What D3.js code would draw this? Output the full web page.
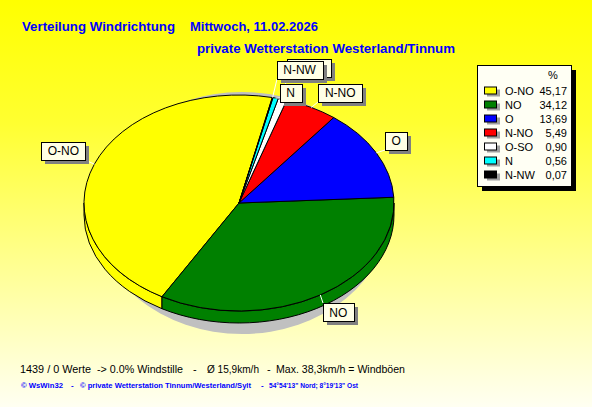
<!DOCTYPE html>
<html><head><meta charset="utf-8">
<script src="https://cdn.jsdelivr.net/npm/d3@7"></script>
<style>html,body{margin:0;padding:0;overflow:hidden;background:#fff}</style>
</head><body>
<svg id="c" width="592" height="407"></svg>
<script>
// ---- data ----
const categories = ["O-NO","NO","O","N-NO","O-SO","N","N-NW"];
const values = [45.17,34.12,13.69,5.49,0.90,0.56,0.07];
const colors = ["#ffff00","#008000","#0000ff","#ff0000","#ffffff","#00ffff","#000000"];
const titleParts = ["Verteilung Windrichtung","Mittwoch, 11.02.2026"];
const subtitle = "private Wetterstation Westerland/Tinnum";
const infoParts = ["1439 / 0 Werte","-> 0.0% Windstille","-","Ø 15,9km/h","-","Max. 38,3km/h = Windböen"];
const footParts = ["© WsWin32","-","© private Wetterstation Tinnum/Westerland/Sylt","-","54°54'13\" Nord; 8°19'13\" Ost"];

// ---- layout ----
const W = 592, H = 407;
const cx = 239, cy = 203, rx = 155, ry = 108, depth = 12;
const startDeg = 77.6;
const labelOffsets = {"O-NO":[-31,-13],"NO":[18,17.5],"O":[20,-12],"N-NO":[29,-14.5],"O-SO":[27,-31],"N":[15,-5],"N-NW":[27,-27.6]};

const svg = d3.select("#c");
const defs = svg.append("defs");
const grad = defs.append("linearGradient").attr("id","bg").attr("x1",0).attr("y1",0).attr("x2",0).attr("y2",1);
grad.append("stop").attr("offset","0").attr("stop-color","#ffff00");
grad.append("stop").attr("offset","0.3").attr("stop-color","#ffff30");
grad.append("stop").attr("offset","1").attr("stop-color","#fffff2");
svg.append("rect").attr("width",W).attr("height",H).attr("fill","url(#bg)");

// titles
const bold = {"font-family":"'Liberation Sans', Arial, sans-serif","font-weight":"bold","font-size":"13px","fill":"#0000ff"};
function txt(g, s, x, y, attrs, len){
  const t = g.append("text").attr("x",x).attr("y",y).text(s);
  for (const k in attrs) t.attr(k, attrs[k]);
  if (len) t.attr("textLength",len).attr("lengthAdjust","spacingAndGlyphs");
  return t;
}
txt(svg, titleParts[0], 22, 31, bold, 153);
txt(svg, titleParts[1], 190, 31, bold);
txt(svg, subtitle, 197, 53, bold, 258);

// pie geometry via d3.pie
const pie = d3.pie().sort(null).startAngle(0).endAngle(2*Math.PI);
const arcs = pie(values);
const ang = d3.scaleLinear().domain([0, 2*Math.PI]).range([startDeg*Math.PI/180, startDeg*Math.PI/180 + 2*Math.PI]);
const pt = (t, dy=0) => [cx + rx*Math.cos(t), cy - ry*Math.sin(t) + dy];

// shadow
svg.append("ellipse").attr("cx",cx+3).attr("cy",cy+10).attr("rx",rx-8).attr("ry",ry+13).attr("fill","#c0c0c0");

// side walls (front half)
const gWall = svg.append("g");
arcs.forEach((a,i)=>{
  const t1 = ang(a.startAngle), t2 = ang(a.endAngle);
  const lo = Math.max(t1, Math.PI), hi = Math.min(t2, 2*Math.PI);
  if (hi > lo) {
    const p1 = pt(lo), p2 = pt(hi), p3 = pt(hi, depth), p4 = pt(lo, depth);
    gWall.append("path")
      .attr("d", `M${p1}A${rx},${ry} 0 0 0 ${p2}L${p3}A${rx},${ry} 0 0 1 ${p4}Z`)
      .attr("fill", colors[i]).attr("stroke","#000").attr("stroke-width",1);
  }
});

// top face
const gTop = svg.append("g");
arcs.forEach((a,i)=>{
  const t1 = ang(a.startAngle), t2 = ang(a.endAngle);
  const p1 = pt(t1), p2 = pt(t2);
  const large = (t2-t1) > Math.PI ? 1 : 0;
  gTop.append("path")
    .attr("d", `M${cx},${cy}L${p1}A${rx},${ry} 0 ${large} 0 ${p2}Z`)
    .attr("fill", colors[i]).attr("stroke","#000").attr("stroke-width",1).attr("stroke-linejoin","round");
});

// labels
const lblFont = {"font-family":"'Liberation Sans', Arial, sans-serif","font-size":"12px","fill":"#000"};
const gLead = svg.append("g"), gLab = svg.append("g");
arcs.forEach((a,i)=>{
  const name = categories[i];
  const tm = ang((a.startAngle + a.endAngle)/2);
  const anchor = pt(tm);
  const off = labelOffsets[name];
  const bcx = anchor[0]+off[0], bcy = anchor[1]+off[1];
  const g = gLab.append("g");
  const t = txt(g, name, bcx, bcy+4.3, lblFont).attr("text-anchor","middle");
  const tw = t.node().getComputedTextLength();
  const bw = Math.round(tw + 13), bh = 18;
  const bx = Math.round(bcx - bw/2), by = Math.round(bcy - bh/2);
  g.insert("rect","text").attr("x",bx+4).attr("y",by+4).attr("width",bw).attr("height",bh).attr("fill","#808080");
  g.insert("rect","text").attr("x",bx+0.5).attr("y",by+0.5).attr("width",bw).attr("height",bh).attr("fill","#ffffe6").attr("stroke","#000");
  const qx = Math.max(bx, Math.min(bx+bw, anchor[0]));
  const qy = Math.max(by, Math.min(by+bh, anchor[1]));
  gLead.append("line").attr("x1",anchor[0]).attr("y1",anchor[1]).attr("x2",qx).attr("y2",qy).attr("stroke","#fff").attr("stroke-width",1);
});

// legend
const lx = 477, ly = 65, lw = 94, lh = 121;
const gL = svg.append("g");
gL.append("rect").attr("x",lx+5).attr("y",ly+5).attr("width",lw).attr("height",lh).attr("fill","#000");
gL.append("rect").attr("x",lx+0.5).attr("y",ly+0.5).attr("width",lw).attr("height",lh).attr("fill","#fffff4").attr("stroke","#000");
const legFont = {"font-family":"'Liberation Sans', Arial, sans-serif","font-size":"11px","fill":"#000"};
txt(gL, "%", 553, 79, legFont).attr("text-anchor","middle");
const fmt = v => d3.format(".2f")(v).replace(".", ",");
const rowY = d3.scaleLinear().domain([0,1]).range([94.5, 108.5]);
categories.forEach((c,i)=>{
  const y = rowY(i);
  gL.append("rect").attr("x",487).attr("y",y-5).attr("width",13).attr("height",7).attr("fill","#a0a0a0");
  gL.append("rect").attr("x",484.5).attr("y",y-7.5).attr("width",12).attr("height",7).attr("fill",colors[i]).attr("stroke","#000");
  txt(gL, c, 505, y, legFont);
  txt(gL, fmt(values[i]), 567, y, legFont).attr("text-anchor","end");
});

// info line
const infoFont = {"font-family":"'Liberation Sans', Arial, sans-serif","font-size":"11px","fill":"#000"};
const infoPos = [[20,71],[97,86],[193,null],[207,52],[267,null],[276,129]];
infoParts.forEach((s,i)=>txt(svg, s, infoPos[i][0], 373, infoFont, infoPos[i][1]));

// footer
const footFont = {"font-family":"'Liberation Sans', Arial, sans-serif","font-weight":"bold","font-size":"8px","fill":"#0000ff"};
const footPos = [[21,42],[71,null],[80,171],[261,null],[269,89]];
footParts.forEach((s,i)=>txt(svg, s, footPos[i][0], 388, footFont, footPos[i][1]));
</script>
</body></html>
